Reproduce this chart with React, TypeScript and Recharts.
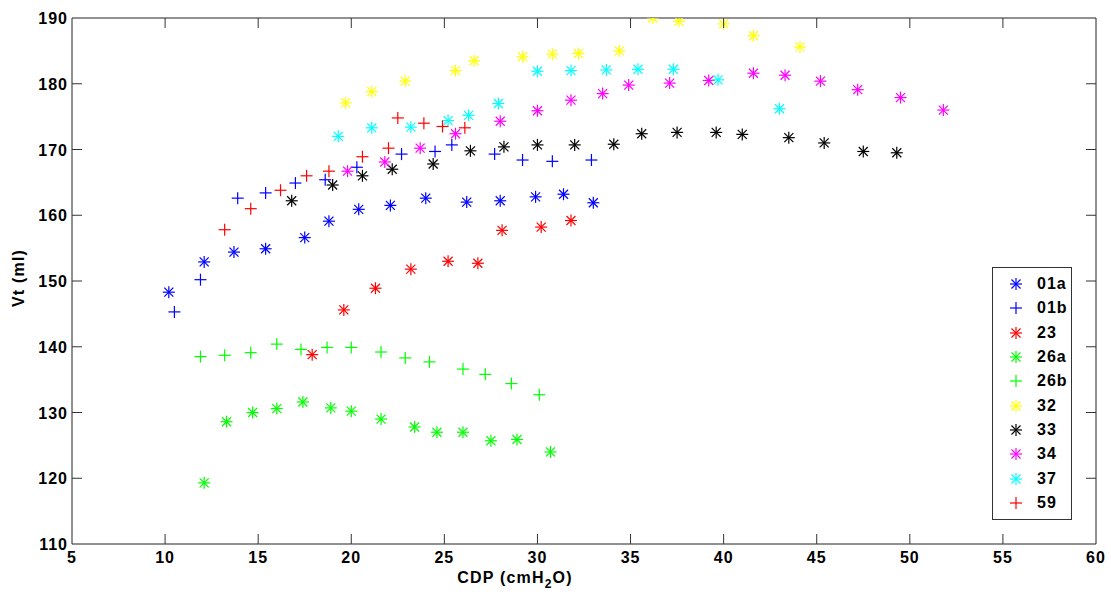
import { ScatterChart, Scatter, XAxis, YAxis, ReferenceArea, Legend } from "recharts";

// CDP (cmH2O) vs Vt (ml), one pair of arrays per subject
const x01a = [10.2, 12.1, 13.7, 15.4, 17.5, 18.8, 20.4, 22.1, 24.0, 26.2, 28.0, 29.9, 31.4, 33.0];
const y01a = [148.3, 152.9, 154.4, 154.9, 156.6, 159.1, 160.9, 161.5, 162.6, 162.0, 162.2, 162.8, 163.2, 161.9];
const x01b = [10.5, 11.9, 13.9, 15.4, 17.0, 18.6, 20.3, 22.7, 24.5, 25.4, 27.7, 29.2, 30.8, 32.9];
const y01b = [145.3, 150.2, 162.6, 163.4, 164.9, 165.4, 167.3, 169.3, 169.7, 170.7, 169.3, 168.4, 168.2, 168.4];
const x23 = [17.9, 19.6, 21.3, 23.2, 25.2, 26.8, 28.1, 30.2, 31.8];
const y23 = [138.8, 145.6, 148.9, 151.8, 153.0, 152.7, 157.7, 158.2, 159.2];
const x26a = [12.1, 13.3, 14.7, 16.0, 17.4, 18.9, 20.0, 21.6, 23.4, 24.6, 26.0, 27.5, 28.9, 30.7];
const y26a = [119.3, 128.6, 130.0, 130.6, 131.6, 130.7, 130.2, 129.0, 127.8, 127.0, 127.0, 125.7, 125.9, 124.0];
const x26b = [11.9, 13.2, 14.6, 16.0, 17.3, 18.7, 20.0, 21.6, 22.9, 24.2, 26.0, 27.2, 28.6, 30.1];
const y26b = [138.5, 138.7, 139.1, 140.4, 139.6, 139.9, 139.9, 139.2, 138.3, 137.7, 136.6, 135.8, 134.4, 132.7];
const x32 = [19.7, 21.1, 22.9, 25.6, 26.6, 29.2, 30.8, 32.2, 34.4, 36.2, 37.6, 40.0, 41.6, 44.1];
const y32 = [177.1, 178.8, 180.4, 182.0, 183.5, 184.1, 184.5, 184.6, 185.0, 190.0, 189.5, 189.1, 187.3, 185.6];
const x33 = [16.8, 19.0, 20.6, 22.2, 24.4, 26.4, 28.2, 30.0, 32.0, 34.1, 35.6, 37.5, 39.6, 41.0, 43.5, 45.4, 47.5, 49.3];
const y33 = [162.2, 164.6, 166.0, 167.0, 167.8, 169.8, 170.4, 170.7, 170.7, 170.8, 172.4, 172.6, 172.6, 172.3, 171.8, 171.0, 169.7, 169.5];
const x34 = [19.8, 21.8, 23.7, 25.6, 28.0, 30.0, 31.8, 33.5, 34.9, 37.1, 39.2, 41.6, 43.3, 45.2, 47.2, 49.5, 51.8];
const y34 = [166.7, 168.1, 170.2, 172.4, 174.3, 175.9, 177.5, 178.5, 179.8, 180.1, 180.5, 181.6, 181.3, 180.4, 179.1, 177.9, 176.0];
const x37 = [19.3, 21.1, 23.2, 25.2, 26.3, 27.9, 30.0, 31.8, 33.7, 35.4, 37.3, 39.7, 43.0];
const y37 = [172.0, 173.3, 173.4, 174.4, 175.2, 177.0, 181.9, 182.0, 182.1, 182.2, 182.2, 180.6, 176.2];
const x59 = [13.2, 14.6, 16.2, 17.6, 18.8, 20.6, 22.0, 22.5, 23.9, 24.9, 26.1];
const y59 = [157.8, 161.0, 163.8, 166.0, 166.7, 168.9, 170.2, 174.8, 174.0, 173.5, 173.3];

const xTicks = [5, 10, 15, 20, 25, 30, 35, 40, 45, 50, 55, 60];
const yTicks = [110, 120, 130, 140, 150, 160, 170, 180, 190];

type Series = { name: string; xs: number[]; ys: number[]; color: string; mark: "star" | "plus" };

const SERIES: Series[] = [
  { name: "01a", xs: x01a, ys: y01a, color: "#0000ff", mark: "star" },
  { name: "01b", xs: x01b, ys: y01b, color: "#0000ff", mark: "plus" },
  { name: "23", xs: x23, ys: y23, color: "#ff0000", mark: "star" },
  { name: "26a", xs: x26a, ys: y26a, color: "#00ff00", mark: "star" },
  { name: "26b", xs: x26b, ys: y26b, color: "#00ff00", mark: "plus" },
  { name: "32", xs: x32, ys: y32, color: "#ffff00", mark: "star" },
  { name: "33", xs: x33, ys: y33, color: "#000000", mark: "star" },
  { name: "34", xs: x34, ys: y34, color: "#ff00ff", mark: "star" },
  { name: "37", xs: x37, ys: y37, color: "#00ffff", mark: "star" },
  { name: "59", xs: x59, ys: y59, color: "#ff0000", mark: "plus" },
];

const W = 1111;
const H = 597;
const TOP = 18;
const BOTTOM = 544;
const LEFT = 72;
const RIGHT = 1096;
const TICK = 10;
const FONT = "'Liberation Sans', Arial, sans-serif";

function Marker({ cx, cy, color, mark }: { cx: number; cy: number; color: string; mark: string }) {
  const r = 6;
  const d = 4.5;
  return (
    <g stroke={color} strokeWidth={1.2} fill="none">
      <line x1={cx - r} y1={cy} x2={cx + r} y2={cy} />
      <line x1={cx} y1={cy - r} x2={cx} y2={cy + r} />
      {mark === "star" && (
        <>
          <line x1={cx - d} y1={cy - d} x2={cx + d} y2={cy + d} />
          <line x1={cx - d} y1={cy + d} x2={cx + d} y2={cy - d} />
        </>
      )}
    </g>
  );
}

function XTick({ x, y, payload }: any) {
  const edge = payload.value === 5 || payload.value === 60;
  return (
    <g>
      {!edge && <line x1={x} y1={BOTTOM} x2={x} y2={BOTTOM - TICK} stroke="#333" />}
      {!edge && <line x1={x} y1={TOP} x2={x} y2={TOP + TICK} stroke="#333" />}
      <text x={x} y={y + 19} textAnchor="middle" fontFamily={FONT} fontWeight="bold" fontSize={16} letterSpacing={1} fill="#000">
        {payload.value}
      </text>
    </g>
  );
}

function YTick({ x, y, payload }: any) {
  const edge = payload.value === 110 || payload.value === 190;
  return (
    <g>
      {!edge && <line x1={LEFT} y1={y} x2={LEFT + TICK} y2={y} stroke="#333" />}
      {!edge && <line x1={RIGHT} y1={y} x2={RIGHT - TICK} y2={y} stroke="#333" />}
      <text x={x - 4} y={y + 6} textAnchor="end" fontFamily={FONT} fontWeight="bold" fontSize={16} letterSpacing={1} fill="#000">
        {payload.value}
      </text>
    </g>
  );
}

function LegendBox() {
  return (
    <div
      style={{
        width: 80,
        boxSizing: "border-box",
        border: "1px solid #333",
        background: "#fff",
        padding: "4px 0",
      }}
    >
      {SERIES.map((s) => (
        <div key={s.name} style={{ height: 24.3, display: "flex", alignItems: "center" }}>
          <svg width={44} height={24} style={{ display: "block" }}>
            <Marker cx={23} cy={12} color={s.color} mark={s.mark} />
          </svg>
          <span style={{ fontFamily: FONT, fontWeight: "bold", fontSize: 16, letterSpacing: 1, color: "#000" }}>
            {s.name}
          </span>
        </div>
      ))}
    </div>
  );
}

export default function App() {
  return (
    <div style={{ position: "absolute", left: 0, top: 0, width: W, height: H, background: "#fff" }}>
      <ScatterChart width={W} height={H} margin={{ top: TOP, right: W - RIGHT, bottom: 0, left: 0 }}>
        <XAxis
          type="number"
          dataKey="x"
          domain={[5, 60]}
          ticks={xTicks}
          interval={0}
          height={H - BOTTOM}
          tickSize={0}
          tickMargin={0}
          tickLine={false}
          axisLine={false}
          tick={<XTick />}
          allowDataOverflow
        />
        <YAxis
          type="number"
          dataKey="y"
          domain={[110, 190]}
          ticks={yTicks}
          interval={0}
          width={LEFT}
          tickSize={0}
          tickMargin={0}
          tickLine={false}
          axisLine={false}
          tick={<YTick />}
          allowDataOverflow
        />
        <ReferenceArea x1={5} x2={60} y1={110} y2={190} fill="none" stroke="#222" strokeWidth={1} ifOverflow="visible" />
        {SERIES.map((s) => (
          <Scatter
            key={s.name}
            name={s.name}
            data={s.xs.map((x, i) => ({ x, y: s.ys[i] }))}
            fill={s.color}
            isAnimationActive={false}
            shape={(p: any) => <Marker cx={p.cx} cy={p.cy} color={s.color} mark={s.mark} />}
          />
        ))}
        <Legend
          layout="vertical"
          align="center"
          verticalAlign="middle"
          wrapperStyle={{ left: 992, top: 267, width: 80 }}
          content={() => <LegendBox />}
        />
        <text x={515} y={583} textAnchor="middle" fontFamily={FONT} fontWeight="bold" fontSize={16} letterSpacing={1.2}>
          CDP (cmH
          <tspan dy={5} fontSize={12}>2</tspan>
          <tspan dy={-5}>O)</tspan>
        </text>
        <text
          x={24}
          y={278}
          transform="rotate(-90 24 278)"
          textAnchor="middle"
          fontFamily={FONT}
          fontWeight="bold"
          fontSize={16}
          letterSpacing={1.2}
        >
          Vt (ml)
        </text>
      </ScatterChart>
    </div>
  );
}
